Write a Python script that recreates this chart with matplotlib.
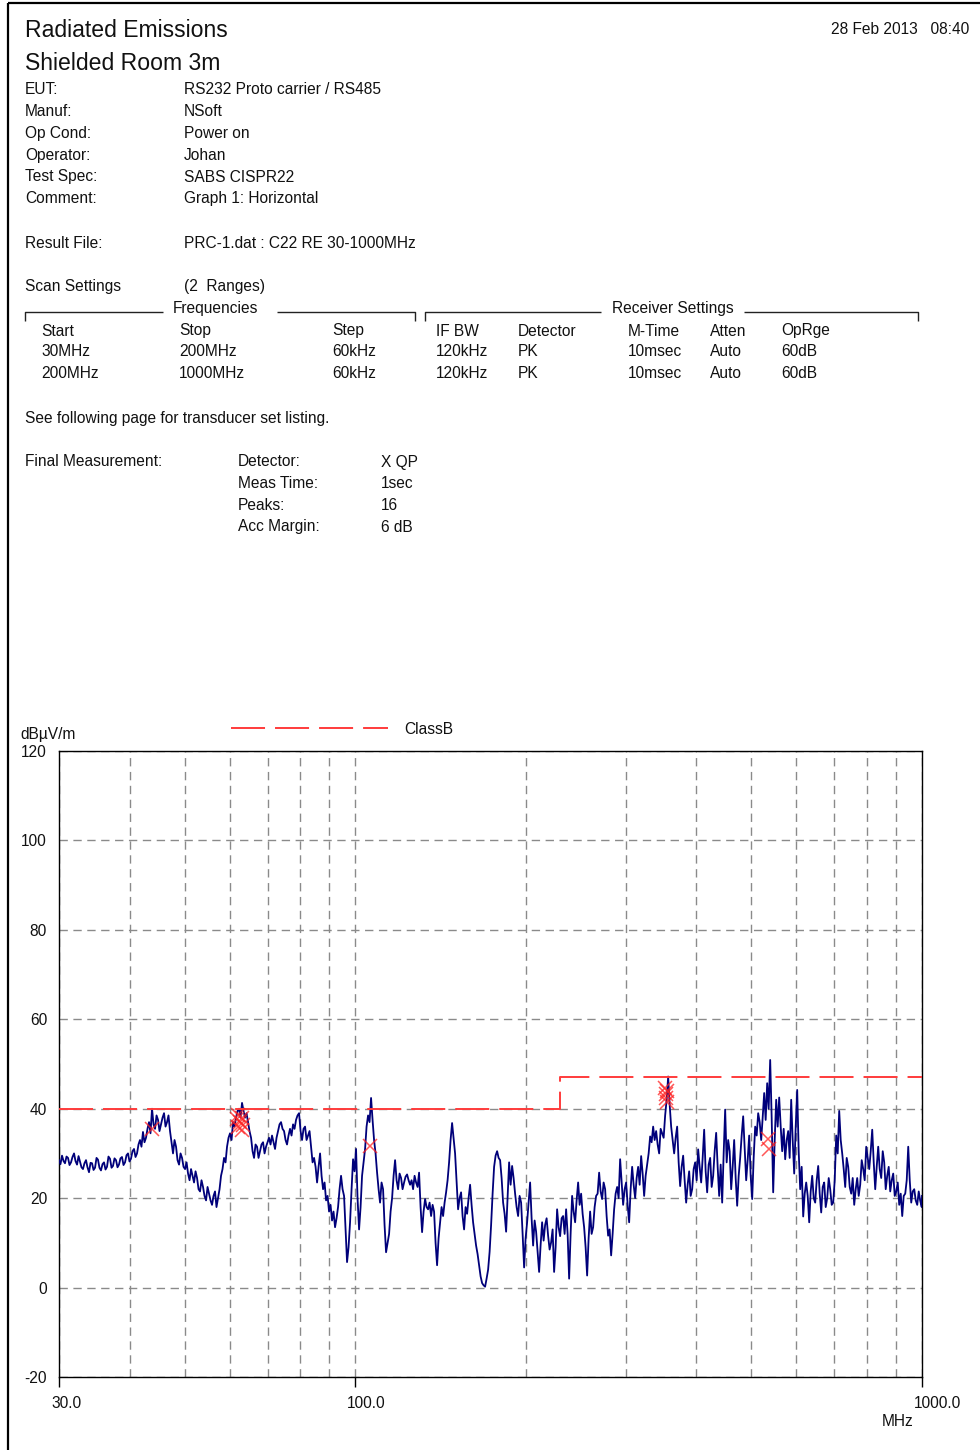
import matplotlib
matplotlib.use('Agg')
import matplotlib.pyplot as plt
from matplotlib.lines import Line2D
from matplotlib.ticker import FixedLocator, NullFormatter
import matplotlib.transforms as mtransforms

# ---------------- data ----------------
title_lines = ["Radiated Emissions", "Shielded Room 3m"]
date_text = "28 Feb 2013   08:40"

info_labels = ["EUT:", "Manuf:", "Op Cond:", "Operator:", "Test Spec:", "Comment:"]
info_values = ["RS232 Proto carrier / RS485", "NSoft", "Power on", "Johan",
               "SABS CISPR22", "Graph 1: Horizontal"]
result_file = "PRC-1.dat : C22 RE 30-1000MHz"

scan_headers = ["Start", "Stop", "Step", "IF BW", "Detector", "M-Time", "Atten", "OpRge"]
scan_row1 = ["30MHz", "200MHz", "60kHz", "120kHz", "PK", "10msec", "Auto", "60dB"]
scan_row2 = ["200MHz", "1000MHz", "60kHz", "120kHz", "PK", "10msec", "Auto", "60dB"]

final_labels = ["Detector:", "Meas Time:", "Peaks:", "Acc Margin:"]
final_values = ["X QP", "1sec", "16", "6 dB"]

# measured trace, part A (MHz, dBuV/m)
freq_a = [30.00, 30.37, 30.74, 31.12, 31.50, 31.89, 32.28, 32.67, 33.07, 33.48,
          33.89, 34.31, 34.73, 35.15, 35.58, 36.02, 36.46, 36.91, 37.36, 37.82,
          38.28, 38.75, 39.23, 39.71, 40.19, 40.69, 41.19, 41.69, 42.20, 42.72,
          43.25, 43.78, 44.32, 44.86, 45.41, 45.97, 46.53, 47.10, 47.68, 48.27,
          48.86, 49.46, 50.07, 50.68, 51.30, 51.93, 52.57, 53.21, 53.86, 54.53,
          55.19, 55.87, 56.55, 57.25, 57.95, 58.66, 59.38, 60.11, 60.84, 61.59,
          62.35, 63.11, 63.89, 64.67, 65.47, 66.27, 67.08, 67.90, 68.74, 69.58,
          70.43, 71.29, 72.17, 73.05, 73.95, 74.86, 75.77, 76.70, 77.65, 78.60,
          79.57, 80.54, 81.53, 82.53, 83.55, 84.57, 85.61, 86.66, 87.72, 88.80,
          89.88, 90.98, 92.10, 93.23, 94.37, 95.53, 96.70, 97.89, 99.09, 100.30,
          101.54, 102.78, 104.05, 105.32, 106.61, 107.92, 109.25, 110.58, 111.94, 113.31,
          114.71, 116.12, 117.54, 118.98, 120.44, 121.92, 123.42, 124.93, 126.46, 128.01,
          129.58, 131.17, 132.78, 134.41, 136.06, 137.72, 139.41, 141.12, 142.86, 144.61,
          146.38, 148.18, 149.99, 151.83, 153.69, 155.58, 157.49, 159.42, 161.38, 163.35,
          165.37, 167.40, 169.45, 171.53, 173.63, 175.76, 177.92, 180.10, 182.31, 184.55,
          186.81, 189.10, 191.42, 193.77, 196.15, 198.55, 200.99, 203.45, 205.95, 208.47,
          211.03, 213.62, 216.24, 218.89, 221.57, 224.29, 227.04, 229.83, 232.65, 235.50,
          238.40, 241.32, 244.28, 247.28, 250.31, 253.38, 256.49, 259.63, 262.82, 266.04,
          269.31, 272.61, 275.96, 279.34, 282.77, 286.23, 289.75, 293.30, 296.90, 300.54,
          304.24, 307.97, 311.75, 315.57, 319.44, 323.36, 327.33, 331.34, 335.41, 339.52,
          343.69, 347.90, 352.17, 356.49, 360.86, 365.29, 369.77, 374.30, 378.90, 383.54,
          388.26, 393.02, 397.84, 402.72, 407.66, 412.66, 417.72, 422.85, 428.04, 433.29,
          438.61, 443.99, 449.43, 454.95, 460.53, 466.18, 471.90, 477.69, 483.55, 489.48,
          495.49, 501.57, 507.72, 513.95, 520.25, 526.63, 533.09, 539.63, 546.25, 552.96,
          559.74, 566.61, 573.56, 580.60, 587.72, 594.93, 602.23, 609.61, 617.09, 624.66,
          632.33, 640.09, 647.94, 655.89, 663.94, 672.08, 680.33, 688.67, 697.12, 705.67,
          714.33, 723.09, 731.96, 740.94, 750.03, 759.24, 768.55, 777.98, 787.52, 797.18,
          806.97, 816.87, 826.89, 837.03, 847.30, 857.70, 868.22, 878.87, 889.65, 900.57,
          911.62, 922.80, 934.12, 945.58, 957.18, 968.93, 980.81, 992.84, 1000.0]

level_a = [28.5, 29.5, 27.8, 29.0, 28.0, 30.0, 27.5, 28.2, 26.5, 28.5,
           25.8, 27.8, 26.8, 28.6, 26.2, 28.0, 27.0, 28.8, 27.2, 28.5,
           27.5, 29.2, 28.0, 30.0, 28.8, 31.0, 30.0, 33.0, 34.8, 33.5,
           37.0, 40.0, 35.5, 37.5, 36.5, 39.0, 37.0, 35.0, 30.0, 31.5,
           27.5, 29.0, 26.5, 25.5, 26.5, 23.5, 24.5, 21.5, 22.5, 19.5,
           21.0, 18.5, 21.5, 20.0, 25.0, 29.0, 31.5, 34.5, 37.0, 38.0,
           40.0, 41.3, 38.0, 37.0, 33.5, 29.0, 31.5, 30.5, 32.5, 31.5,
           33.5, 34.0, 31.0, 35.0, 37.0, 35.0, 32.0, 35.5, 36.5, 37.5,
           39.0, 33.0, 36.0, 34.0, 31.5, 29.0, 23.5, 30.0, 22.0, 19.5,
           17.0, 15.0, 13.5, 18.0, 25.0, 20.5, 5.7, 14.6, 28.7, 31.0,
           13.0, 25.0, 31.0, 38.5, 42.4, 33.0, 25.7, 19.0, 22.0, 7.9,
           12.0, 20.0, 28.5, 22.0, 24.5, 23.5, 25.3, 23.0, 22.0, 23.5,
           25.7, 12.4, 19.8, 17.5, 16.0, 17.0, 5.0, 14.6, 16.0, 21.3,
           28.0, 36.8, 30.0, 17.5, 21.3, 13.0, 16.5, 23.0, 14.6, 9.4,
           5.0, 1.0, 0.2, 4.0, 14.0, 27.0, 30.5, 28.5, 19.0, 12.5,
           28.0, 27.2, 21.0, 16.0, 19.0, 4.5, 14.6, 23.5, 9.4, 12.5,
           3.5, 14.6, 14.0, 11.6, 10.1, 3.5, 17.5, 11.5, 16.0, 17.5,
           2.0, 20.5, 14.6, 23.5, 21.0, 13.5, 2.7, 17.0, 13.5, 20.5,
           25.7, 19.8, 22.0, 11.6, 7.2, 17.5, 22.5, 28.7, 18.5, 23.5,
           14.6, 27.0, 20.0, 27.0, 29.4, 20.5, 27.5, 33.8, 36.0, 35.0,
           30.0, 34.5, 38.5, 47.2, 36.0, 30.0, 36.0, 22.7, 29.5, 19.0,
           26.0, 22.0, 28.0, 30.9, 23.5, 35.3, 21.3, 29.0, 25.0, 34.6,
           20.5, 19.0, 39.8, 33.0, 22.0, 33.0, 18.3, 29.0, 38.3, 24.0,
           34.0, 19.8, 36.0, 39.0, 33.0, 43.5, 45.7, 50.9, 21.3, 42.0,
           42.5, 30.5, 28.7, 35.0, 42.0, 25.5, 44.2, 22.0, 15.9, 23.5,
           14.6, 25.0, 19.0, 27.2, 16.8, 23.5, 20.0, 22.0, 19.0, 34.0,
           39.5, 30.0, 22.5, 27.0, 21.0, 18.5, 24.5, 23.0, 26.5, 31.5,
           26.5, 35.3, 22.0, 31.5, 24.5, 28.0, 25.0, 21.5, 25.5, 21.5,
           18.5, 16.0, 21.0, 31.5, 19.0, 22.0, 18.5, 19.4, 20.5]

# measured trace, part B (in-between sweep points)
freq_b = [30.18, 30.56, 30.93, 31.31, 31.69, 32.08, 32.48, 32.87, 33.27, 33.68,
          34.10, 34.52, 34.94, 35.36, 35.80, 36.24, 36.68, 37.14, 37.59, 38.05,
          38.51, 38.99, 39.47, 39.95, 40.44, 40.94, 41.44, 41.94, 42.46, 42.98,
          43.51, 44.05, 44.59, 45.13, 45.69, 46.25, 46.81, 47.39, 47.97, 48.56,
          49.16, 49.76, 50.38, 50.99, 51.61, 52.25, 52.89, 53.53, 54.19, 54.86,
          55.53, 56.21, 56.89, 57.60, 58.30, 59.02, 59.74, 60.48, 61.21, 61.97,
          62.73, 63.50, 64.28, 65.06, 65.87, 66.67, 67.49, 68.31, 69.16, 70.00,
          70.86, 71.72, 72.61, 73.50, 74.40, 75.32, 76.23, 77.17, 78.12, 79.08,
          80.06, 81.03, 82.03, 83.03, 84.06, 85.09, 86.13, 87.19, 88.26, 89.34,
          90.43, 91.53, 92.66, 93.80, 94.95, 96.11, 97.29, 98.49, 99.69, 100.91,
          102.16, 103.41, 104.68, 105.96, 107.26, 108.58, 109.92, 111.25, 112.62, 114.00,
          115.41, 116.83, 118.26, 119.71, 121.17, 122.66, 124.17, 125.69, 127.23, 128.79,
          130.37, 131.97, 133.59, 135.23, 136.89, 138.56, 140.26, 141.98, 143.73, 145.49,
          147.27, 149.08, 150.90, 152.76, 154.63, 156.53, 158.45, 160.39, 162.36, 164.35,
          166.38, 168.42, 170.48, 172.58, 174.69, 176.83, 179.01, 181.20, 183.42, 185.68,
          187.95, 190.25, 192.59, 194.95, 197.35, 199.76, 202.22, 204.69, 207.21, 209.74,
          212.32, 214.92, 217.56, 220.23, 222.92, 225.66, 228.42, 231.23, 234.07, 236.94,
          239.85, 242.79, 245.77, 248.79, 251.84, 254.93, 258.05, 261.21, 264.42, 267.66,
          270.95, 274.27, 277.64, 281.04, 284.49, 287.98, 291.52, 295.09, 298.71, 302.37,
          306.10, 309.85, 313.65, 317.49, 321.39, 325.33, 329.33, 333.36, 337.46, 341.59,
          345.79, 350.02, 354.32, 358.66, 363.06, 367.52, 372.03, 376.58, 381.21, 385.88,
          390.63, 395.42, 400.27, 405.18, 410.15, 415.18, 420.27, 425.43, 430.65, 435.93,
          441.29, 446.70, 452.17, 457.73, 463.34, 469.02, 474.78, 480.60, 486.50, 492.47,
          498.5, 504.6, 510.8, 517.1, 523.4, 529.8, 536.3, 542.9, 549.6, 556.3,
          563.2, 570.1, 577.1, 584.1, 591.3, 598.6, 605.9, 613.3, 620.9, 628.5,
          636.2, 644.0, 651.9, 659.9, 668.0, 676.2, 684.5, 692.9, 701.4, 710.0,
          718.7, 727.5, 736.4, 745.5, 754.6, 763.9, 773.2, 782.7, 792.3, 802.0,
          811.9, 821.9, 831.9, 842.1, 852.5, 862.9, 873.5, 884.2, 895.1, 906.1,
          917.2, 928.4, 939.8, 951.4, 963.0, 974.8, 986.8, 998.9]

level_b = [27.6, 28.3, 29.3, 27.4, 29.2, 28.3, 29.4, 26.9, 27.8, 26.9,
           27.9, 26.3, 29.0, 26.8, 27.6, 26.4, 29.3, 26.8, 28.9, 26.9,
           28.9, 27.4, 29.6, 28.2, 30.5, 29.2, 32.0, 31.5, 32.5, 35.5,
           34.5, 36.5, 38.5, 35.0, 38.0, 36.0, 38.5, 32.5, 33.0, 28.5,
           30.0, 27.0, 28.0, 24.0, 25.0, 26.0, 22.0, 24.0, 20.5, 22.5,
           19.5, 20.5, 18.0, 22.0, 26.5, 28.0, 33.5, 33.0, 36.0, 39.5,
           38.0, 39.5, 39.0, 35.0, 30.5, 32.0, 29.0, 32.0, 30.0, 32.5,
           32.0, 32.5, 33.5, 36.5, 35.5, 33.0, 34.0, 34.0, 35.5, 38.5,
           35.0, 35.5, 33.0, 35.0, 28.0, 27.0, 27.0, 25.0, 23.5, 20.5,
           18.5, 17.0, 15.5, 22.0, 22.0, 13.0, 9.0, 22.0, 26.0, 20.0,
           18.0, 28.0, 36.0, 37.0, 37.5, 30.0, 22.0, 23.5, 14.0, 10.0,
           17.0, 25.0, 24.0, 25.5, 22.0, 24.8, 24.0, 24.0, 25.0, 22.5,
           18.0, 17.0, 18.0, 19.0, 18.5, 10.0, 11.0, 18.0, 19.0, 24.0,
           33.0, 33.5, 24.0, 20.0, 16.0, 18.0, 20.0, 18.5, 12.0, 7.5,
           2.5, 0.5, 2.0, 8.0, 21.0, 29.5, 29.0, 24.5, 16.5, 20.5,
           23.0, 24.5, 18.0, 20.5, 12.0, 11.0, 19.0, 15.5, 15.0, 8.0,
           9.5, 10.5, 15.5, 8.5, 13.0, 9.0, 13.5, 15.5, 12.0, 12.0,
           12.0, 17.0, 19.5, 18.5, 16.5, 9.0, 11.0, 12.0, 18.0, 21.0,
           21.5, 23.5, 16.0, 13.0, 12.0, 21.0, 20.0, 23.5, 22.0, 18.5,
           22.0, 23.0, 24.5, 23.0, 25.5, 25.0, 30.0, 32.5, 33.0, 32.0,
           35.5, 33.5, 42.0, 41.0, 33.0, 33.5, 28.0, 27.0, 24.0, 23.0,
           20.5, 26.5, 24.0, 27.0, 29.0, 26.0, 27.5, 22.5, 30.5, 27.0,
           27.5, 30.0, 28.0, 30.5, 27.0, 24.5, 25.0, 34.0, 31.0, 28.5,
           25.0, 29.0, 34.0, 37.0, 38.0, 37.5, 40.0, 38.0, 33.0, 36.0,
           36.0, 35.5, 33.0, 29.0, 33.0, 36.0, 30.5, 27.0, 21.0, 20.5,
           21.5, 20.0, 24.0, 21.0, 22.5, 18.0, 24.5, 18.5, 24.0, 30.0,
           33.0, 26.5, 29.0, 22.5, 24.5, 22.0, 20.5, 28.5, 24.0, 29.0,
           30.5, 28.0, 27.0, 26.5, 30.5, 22.0, 27.0, 24.0, 20.5, 23.5,
           21.0, 20.5, 24.0, 24.0, 21.5, 19.5, 21.5, 18.0]

# ClassB limit line
limit_freq = [30, 230, 230, 1000]
limit_level = [40, 40, 47, 47]

# final measurement peaks (16)
peak_freq = [43.7, 61.8, 62.2, 62.6, 63.0, 63.4, 62.0, 63.2, 106.1,
             352.5, 353.5, 354.3, 355.0, 354.0, 535.0, 537.0]
peak_level = [35.4, 37.8, 38.6, 37.1, 35.2, 36.4, 36.0, 38.0, 31.7,
              44.6, 43.2, 41.6, 43.9, 42.4, 33.2, 30.9]

x_major = [30, 100, 1000]
x_major_labels = ["30.0", "100.0", "1000.0"]
x_grid_minor = [40, 50, 60, 70, 80, 90, 200, 300, 400, 500, 600, 700, 800, 900]
y_ticks = [-20, 0, 20, 40, 60, 80, 100, 120]

# ---------------- style ----------------
plt.rcParams['font.family'] = ['Liberation Sans', 'DejaVu Sans']
plt.rcParams['axes.unicode_minus'] = False
plt.rcParams['lines.scale_dashes'] = False

W, H = 980, 1450
fig = plt.figure(figsize=(9.8, 14.5), dpi=100)
fig.patch.set_facecolor('white')
FS = 11.2
TXT = '#111111'


def fx(x):
    return x / W


def fy(y):
    return 1 - y / H


def txt(x, y, s, size=FS, ha='left'):
    fig.text(fx(x), fy(y), s, fontsize=size, ha=ha, va='baseline', color=TXT)


def pline(xs, ys, lw=1.0, color='#222222'):
    fig.add_artist(Line2D([fx(v) for v in xs], [fy(v) for v in ys],
                          color=color, lw=lw, solid_capstyle='butt'))


# page border (left and top)
pline([8, 8], [3, 1450], lw=1.6, color='black')
pline([8, 980], [3, 3], lw=1.6, color='black')

# header
txt(25, 37, title_lines[0], size=16.6)
txt(25, 70, title_lines[1], size=16.6)
txt(969, 34.5, date_text, ha='right')

row_y = [94.5, 115.5, 138.0, 160.0, 181.5, 203.0]
for lab, val, y in zip(info_labels, info_values, row_y):
    txt(25, y, lab)
    txt(184, y, val)
txt(25, 247.5, "Result File:")
txt(184, 247.5, result_file)

txt(25, 291.5, "Scan Settings")
txt(184, 291.5, "(2  Ranges)")

# bracket headers
pline([25, 25, 163], [321, 312, 312])
pline([277, 415, 415], [312, 312, 321])
txt(215, 313, "Frequencies", ha='center')
pline([425, 425, 601], [321, 312, 312])
pline([744, 918, 918], [312, 312, 321])
txt(672.5, 313, "Receiver Settings", ha='center')

col_x = [41, 179, 332, 436, 518, 628, 710, 781]
for row, y in zip([scan_headers, scan_row1, scan_row2], [335.5, 356.5, 378.5]):
    for x, s in zip(col_x, row):
        txt(x, y, s)

txt(25, 422.5, "See following page for transducer set listing.")

txt(25, 466.5, "Final Measurement:")
for lab, val, y in zip(final_labels, final_values, [466.5, 488.5, 509.5, 531.5]):
    txt(238, y, lab)
    txt(381, y, val)

# ---------------- chart ----------------
ax = fig.add_axes([fx(59), fy(1377), (922 - 59) / W, (1377 - 751) / H])
ax.set_xscale('log')
ax.set_xlim(30, 1000)
ax.set_ylim(-20, 120)

ax.xaxis.set_major_locator(FixedLocator(x_major))
ax.xaxis.set_minor_locator(FixedLocator(x_grid_minor))
ax.xaxis.set_major_formatter(NullFormatter())
ax.xaxis.set_minor_formatter(NullFormatter())
ax.tick_params(axis='x', which='major', length=7, width=1.0, direction='out', color='black')
ax.tick_params(axis='x', which='minor', length=0)
ax.set_yticks(y_ticks)
ax.set_yticklabels([str(v) for v in y_ticks])
ax.tick_params(axis='y', length=0, pad=8.6, labelsize=FS, labelcolor=TXT)

grid_kw = dict(color='#8a8a8a', lw=1.0, linestyle=(0, (6, 4)))
ax.grid(True, which='both', axis='x', **grid_kw)
ax.grid(True, which='major', axis='y', **grid_kw)
ax.set_axisbelow(True)
for sp in ax.spines.values():
    sp.set_color('black')
    sp.set_linewidth(1.0)

trace = sorted(zip(freq_a + freq_b, level_a + level_b))
ax.plot([p[0] for p in trace], [p[1] for p in trace], color='#00007a', lw=1.3, zorder=3)
limit_ln, = ax.plot(limit_freq, limit_level, color='#ff3b3b', lw=1.4,
                    dashes=(24.5, 7.2), zorder=4, label='ClassB')
ax.plot(peak_freq, peak_level, linestyle='none', marker='x', color='#ff2020',
        ms=10, mew=1.1, alpha=0.75, zorder=5)

# x tick labels (offset like the original)
lab_tr = mtransforms.blended_transform_factory(ax.transData, ax.transAxes) + \
    mtransforms.ScaledTranslation(-8 / 100, -31.5 / 100, fig.dpi_scale_trans)
for f, s in zip(x_major, x_major_labels):
    ax.text(f, 0, s, transform=lab_tr, ha='left', va='baseline', fontsize=FS, color=TXT)
txt(882, 1426.5, "MHz")
txt(20, 739.5, "dBµV/m")

# legend
ax.legend(handles=[limit_ln], labels=['ClassB'], loc='center left',
          bbox_to_anchor=(fx(231), fy(729)), bbox_transform=fig.transFigure,
          frameon=False, borderpad=0, borderaxespad=0,
          handlelength=157 / (FS * 100 / 72), handletextpad=16 / (FS * 100 / 72),
          fontsize=FS, labelcolor=TXT)

fig.savefig('out.png', dpi=100, facecolor='white')
